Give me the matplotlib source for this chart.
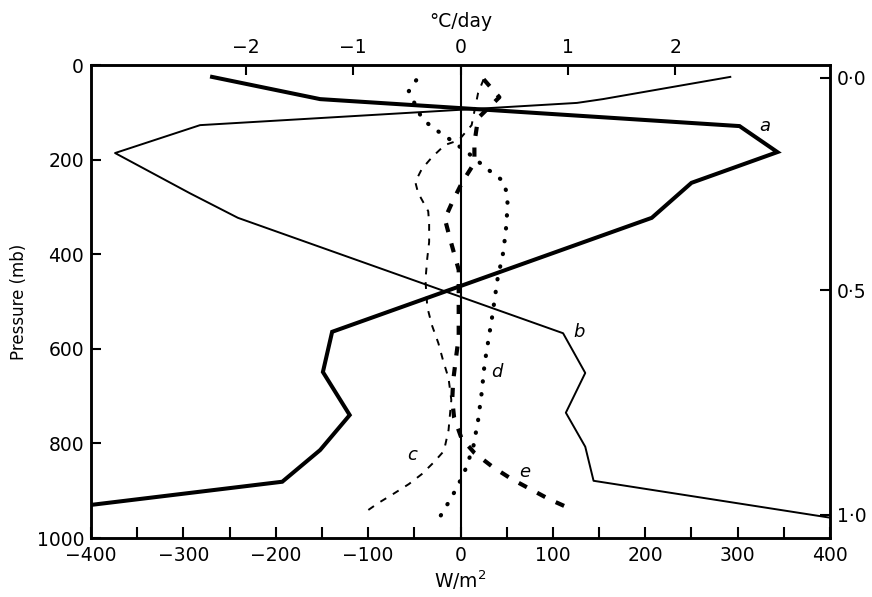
import numpy as np
import matplotlib.pyplot as plt

# curve values: flux in W/m2, pressure in mb
a_w = [-269, -152, 0, 302, 343, 250, 207, -139, -149, -120, -152, -193, -400]
a_p = [25, 72, 91, 129, 184, 249, 323, 564, 649, 740, 814, 881, 930]

b_w = [292, 154, 126, -282, -374, -293, -241, 111, 135, 114, 135, 144, 400]
b_p = [25, 72, 80, 127, 186, 271, 323, 567, 651, 735, 807, 879, 957]

c_w = [25, 19, 12, -2, -17, -31, -42, -49, -46, -35, -34, -34, -36, -38, -36,
       -31, -24, -19, -13, -10, -13, -18, -29, -42, -56, -73, -89, -103]
c_p = [30, 59, 127, 159, 169, 195, 220, 247, 270, 309, 334, 374, 408, 455, 512,
       550, 588, 624, 662, 708, 772, 816, 840, 865, 886, 907, 926, 945]

d_w = [-48, -56, -50, -42, -30, -18, 7, 26, 35, 46, 50, 51, 49, 46, 40, 34,
       31, 26, 23, 19, 14, 8, 3, -4, -10, -17, -23]
d_p = [32, 55, 80, 112, 133, 148, 184, 215, 229, 245, 270, 296, 351, 398, 453, 535,
       571, 632, 691, 751, 805, 840, 867, 892, 916, 937, 958]

e_w = [25, 42, 19, 15, 15, 2, -9, -17, -11, -2, -2, -2, -5, -8, -9, -7,
       1, 15, 35, 55, 75, 96, 120]
e_p = [30, 68, 112, 165, 207, 247, 290, 325, 370, 433, 529, 575, 620, 668, 708, 745,
       789, 820, 850, 875, 896, 918, 939]

labels = ['a', 'b', 'c', 'd', 'e']
label_w = [329, 128, -52, 39, 70]
label_p = [129, 564, 824, 650, 860]

# sigma levels on the right hand axis
sigma_p = [27, 476, 951]
sigma_lab = ['0·0', '0·5', '1·0']

wm2_per_cday = 116.3

plt.rcParams['font.family'] = ['DejaVu Sans']
fig = plt.figure(figsize=(8.72, 5.97), dpi=100)
ax = fig.add_axes([0.1044, 0.0988, 0.8475, 0.7922])

ax.plot(a_w, a_p, color='black', lw=2.9, solid_joinstyle='miter')
ax.plot(b_w, b_p, color='black', lw=1.4)
ax.plot(c_w, c_p, color='black', lw=1.4, linestyle=(0, (3.5, 4)))
ax.plot(d_w, d_p, color='black', lw=3, linestyle=(0, (0.1, 3)),
        dash_capstyle='round')
ax.plot(e_w, e_p, color='black', lw=3, linestyle=(0, (2.2, 2.8)))
ax.axvline(0, color='black', lw=1.5)

for t, x, y in zip(labels, label_w, label_p):
    ax.text(x, y, t, fontsize=13, style='italic', ha='center', va='center')

ax.set_xlim(-400, 400)
ax.set_ylim(1000, 0)
ax.set_xticks(np.arange(-400, 401, 100))
ax.set_xticklabels(['\u2212400', '\u2212300', '\u2212200', '\u2212100', '0',
                    '100', '200', '300', '400'])
ax.set_xticks(np.arange(-350, 400, 100), minor=True)
ax.set_yticks([0, 200, 400, 600, 800, 1000])
ax.tick_params(axis='both', which='both', direction='in', width=1.5,
               labelsize=13.5)
ax.tick_params(axis='x', which='both', length=8, pad=6)
ax.tick_params(axis='y', length=7, pad=5)
ax.set_xlabel('W/m$^2$', fontsize=13.5, labelpad=2)
ax.set_ylabel('Pressure (mb)', fontsize=12, labelpad=6)
for s in ax.spines.values():
    s.set_linewidth(1.8)

top = ax.secondary_xaxis('top', functions=(lambda w: w / wm2_per_cday,
                                           lambda c: c * wm2_per_cday))
top.set_xticks([-2, -1, 0, 1, 2])
top.set_xticklabels(['\u22122', '\u22121', '0', '1', '2'])
top.tick_params(direction='in', length=7, width=1.5, labelsize=13.5, pad=6)
top.set_xlabel('°C/day', fontsize=13.5, labelpad=8)

rt = ax.twinx()
rt.set_ylim(1000, 0)
rt.set_yticks(sigma_p)
rt.set_yticklabels(sigma_lab)
rt.tick_params(direction='in', length=7, width=1.5, labelsize=13.5, pad=5)
for s in rt.spines.values():
    s.set_linewidth(1.8)

fig.savefig('out.png', dpi=100)
